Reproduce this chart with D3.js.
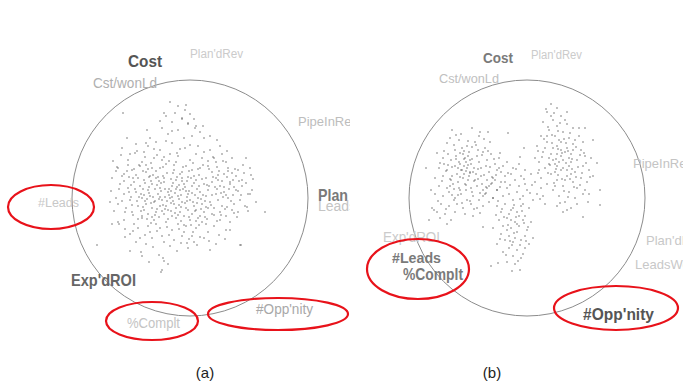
<!DOCTYPE html>
<html><head><meta charset="utf-8">
<script src="https://cdn.jsdelivr.net/npm/d3@7"></script>
<style>html,body{margin:0;padding:0;background:#fff;}svg{display:block;}</style>
</head><body>
<script>
// ---------- DATA ----------
// projected points, offsets from circle centre in data units (circle radius = 118)
const pointsA = [
[-20,-96],[-12,-92],[-5,-88],[-15,-85],[-24,-82],[-8,-80],[0,-84],[-18,-76],[-2,-74],[6,-72],[-28,-70],[-12,-68],[10,-66],[-22,-64],[2,-62],[-40,-60],[-6,-60],[14,-60],[-67,-85],[-43,-68],[-63,-60],[-2,-75],[5,-70],[13,-72],[-8,-79],
[-68,-50],[-55,-45],[-42,-52],[-30,-48],[-18,-55],[-5,-50],[8,-52],[20,-48],[32,-44],[42,-40],[-62,-38],[-48,-36],[-36,-40],[-24,-34],[-12,-42],[0,-38],[12,-40],[26,-36],[38,-30],[48,-28],[-72,-30],[-58,-28],[-44,-26],[-30,-30],[-16,-28],[-4,-32],[10,-30],[22,-26],[34,-24],[46,-22],[-66,-24],[-52,-20],[-40,-22],[-26,-20],[-10,-24],[4,-22],[16,-20],[28,-18],[40,-16],[52,-18],[-54,-54],[-20,-44],[14,-46],[-34,-56],[6,-44],[-60,-44],[30,-52],[-8,-26],[-46,-46],[18,-32],[60,-30],[-78,-20],[56,-40],[-28,-38],[-14,-36],[2,-28],[-38,-30],[24,-40],[-50,-32],[36,-36],
[-70,-14],[-62,-10],[-56,-16],[-50,-12],[-46,-18],[-42,-8],[-38,-14],[-34,-20],[-30,-10],[-26,-16],[-22,-6],[-18,-12],[-14,-18],[-10,-8],[-6,-14],[-2,-4],[2,-12],[6,-18],[10,-6],[14,-14],[18,-8],[22,-16],[26,-4],[30,-12],[34,-6],[40,-14],[46,-8],[52,-12],[58,-4],[-66,-4],[-60,2],[-54,-6],[-48,0],[-44,6],[-40,-2],[-36,4],[-32,-4],[-28,2],[-24,8],[-20,0],[-16,6],[-12,-2],[-8,4],[-4,10],[0,2],[4,8],[8,0],[12,6],[16,-2],[20,4],[24,10],[28,2],[32,8],[38,0],[44,6],[50,2],[-72,6],[-64,10],[-58,14],[-52,8],[-46,12],[-42,16],[-38,10],[-34,14],[-30,8],[-26,16],[-22,12],[-18,18],[-14,10],[-10,14],[-6,18],[-2,12],[2,16],[6,12],[10,18],[14,14],[18,10],[22,16],[30,14],[36,18],[42,12],[-57,-20],[-41,-21],[-27,-22],[-13,-21],[1,-20],[-49,-4],[-35,-9],[-21,-3],[-7,-9],[-53,3],[-39,5],[-25,-1],[-11,1],[-45,-15],[-31,-17],[-17,-15],[-3,-17],[-47,9],[-33,11],[-19,13],[-5,5],[-55,-9],[-43,1],[-29,-7],[-15,-5],[-1,-7],[-37,-1],[-23,3],[-9,-3],[-51,-1],[-61,-6],[-65,14],[-68,-22],[-41,-11],[-27,7],[-13,-11],[3,4],[9,-12],[-33,-13],[-19,-19],[-45,3],[-31,1],[-17,3],[-3,-1],[-59,-13],[-39,-17],[-25,11],[-11,7],[5,-3],[11,11],[-35,17],[-21,-9],[15,3],[19,-12],[27,-9],[33,-1],[37,9],[43,-3],[48,14],[55,8],[62,-8],[66,4],[-74,0],[-48,18],[-8,-20],[26,-20],
[-66,22],[-56,26],[-48,20],[-42,28],[-36,22],[-30,30],[-24,24],[-18,32],[-12,26],[-6,34],[0,22],[6,30],[12,24],[18,34],[24,28],[30,22],[36,32],[-60,36],[-50,40],[-40,34],[-28,38],[-16,42],[-8,38],[4,44],[14,40],[26,46],[-44,46],[-20,48],[-2,50],[20,52],[-34,26],[-14,20],[8,20],[-52,30],[-4,28],[2,38],[-26,44],[40,24],[51,47],[-71,26],[16,26],[-38,40],
[75,14],[-49,54],[-60,53],[-48,58],[-41,64],[-27,60],[-26,63],[-22,66],[-29,74],[-3,45],[10,39],[3,34],[40,32],[-65,39],[-72,24],[-78,26],[-93,47],[-28,72],[50,47],[-80,4],[60,-4],[43,-18],[37,-47],[27,-58],[20,-62]
];
const extraA = [
[-77,-37],[-71,-9],[-69,-43],[-63,-27],[-59,-1],[-57,17],[-53,-47],[-51,-33],[-49,13],[-47,-27],[-45,-41],[-43,21],[-41,-5],[-39,-35],[-37,-23],[-35,3],[-33,-43],[-31,19],[-29,-15],[-27,-31],[-25,-9],[-23,29],[-21,-37],[-19,5],[-17,-25],[-15,15],[-13,-45],[-11,-13],[-9,23],[-7,-31],[-5,-11],[-3,3],[-1,-27],[1,27],[3,-35],[5,13],[7,-9],[9,-23],[11,1],[13,-33],[15,19],[17,-13],[19,-29],[21,7],[23,-41],[25,-11],[27,23],[29,-27],[31,-5],[33,-37],[35,11],[37,-21],[39,-9],[41,3],[45,-29],[47,19],[49,-17],[53,-33],[57,9],[63,-19],
[-74,-27],[-66,-17],[-62,-33],[-58,7],[-54,-23],[-52,21],[-46,-3],[-42,-29],[-38,19],[-34,-27],[-30,-1],[-26,-41],[-22,21],[-18,-1],[-16,-33],[-12,17],[-8,-17],[-6,27],[-2,-21],[2,-5],[6,23],[8,-29],[12,-19],[16,9],[18,-37],[22,-3],[24,17],[28,-23],[32,-17],[36,-3],[42,-25],[44,15],[48,-7],[54,-25],[58,13],[-36,-49],[-24,-57],[-10,-49],[0,-53],[-44,-55],[-18,-67],[-4,-93],[-26,-85],[4,-79],[-30,-77],
[-79,-7],[-76,13],[-73,-31],[-68,3],[-61,-21],[-56,-29],[-47,-9],[-44,-33],[-39,25],[-32,-21],[-28,13],[-23,-25],[-19,-7],[-14,-9],[-9,9],[-4,-7],[-1,19],[4,-15],[7,5],[13,-3],[17,21],[23,-21],[27,-31],[31,17],[34,-11],[38,-27],[44,-11],[51,-3],[56,-15],[61,-23],
[-57,33],[-45,37],[-33,33],[-21,37],[-11,31],[-1,41],[9,27],[19,43],[29,37],[-65,31],[-37,49],[-13,53],[7,47],[35,41],[-54,44],[-31,57],[-9,45]
];
const pointsB = [
[-75,-68],[-55,-70],[-48,-62],[-80,-55],[-68,-58],[-60,-52],[-52,-56],[-42,-50],[-72,-48],[-64,-44],[-58,-46],[-50,-42],[-44,-46],[-36,-44],[-84,-40],[-76,-38],[-68,-36],[-62,-40],[-56,-34],[-48,-36],[-40,-38],[-32,-34],[-88,-30],[-80,-28],[-72,-32],[-66,-28],[-60,-30],[-54,-26],[-46,-30],[-38,-26],[-30,-28],[-24,-32],[-92,-20],[-84,-22],[-76,-18],[-70,-24],[-64,-20],[-58,-22],[-52,-18],[-46,-22],[-40,-18],[-34,-20],[-26,-16],[-88,-12],[-80,-10],[-74,-14],[-68,-10],[-62,-14],[-56,-10],[-50,-12],[-44,-8],[-38,-12],[-30,-8],[-92,-4],[-84,-2],[-78,-6],[-72,0],[-66,-4],[-60,2],[-54,-2],[-48,2],[-42,-4],[-34,0],[-86,6],[-78,8],[-70,6],[-64,10],[-56,6],[-50,10],[-44,8],[-90,14],[-82,16],[-72,14],[-62,16],[-54,18],[-95,10],[-67,-34],[-63,-24],[-69,-16],[-57,-38],[-65,-50],[-59,-18],[-71,-42],[-53,-30],[-61,-8],[-75,-22],[-49,-48],[-67,-8],[-45,-14],[-79,-44],[-55,-6],[-41,-32],[-73,2],[-61,-36],[-65,-28],[-69,-30],[-57,-26],[-63,-32],[-59,-42],[-51,-24],[-77,-12],[-83,-34],[-37,-56],[-47,-66],[-66,-64],[-28,-40],[-22,-22],[-96,-8],[-87,20],[-76,22],[-93,12],[-77,-60],[-19,-65],[-7,-41],
[-20,-36],[-8,-34],[-14,-30],[-2,-28],[-26,-26],[-16,-24],[-6,-22],[4,-24],[-32,-18],[-22,-16],[-12,-18],[-2,-14],[8,-16],[14,-10],[-40,-10],[-30,-8],[-20,-10],[-10,-6],[0,-8],[10,-4],[-44,-2],[-34,0],[-24,-2],[-14,2],[-4,-2],[6,2],[16,-2],[-28,-30],[-36,-14],[-18,-4],[-8,-12],[-4,6],[-38,4],[18,6],
[-30,8],[-22,6],[-14,10],[-6,8],[2,10],[-26,14],[-18,16],[-10,14],[-2,18],[-28,22],[-20,20],[-12,24],[-4,22],[4,24],[-24,28],[-16,30],[-8,28],[0,32],[-26,36],[-18,38],[-10,34],[-2,38],[-22,42],[-14,44],[-6,42],[2,46],[-18,50],[-10,52],[-2,50],[-24,54],[-14,58],[-6,60],[-20,64],[-12,66],[-30,46],[-4,56],[-16,22],[-8,18],[-12,40],[-20,32],[6,40],[-34,30],[-16,12],[-10,26],[-29,65],[-15,73],[-7,72],[-44,29],[-36,68],
[24,-94],[30,-90],[20,-86],[34,-82],[26,-78],[16,-76],[40,-74],[30,-72],[22,-68],[46,-70],[36,-66],[14,-62],[28,-62],[42,-60],[52,-62],[20,-56],[34,-56],[46,-54],[10,-52],[26,-50],[40,-50],[54,-48],[16,-46],[30,-44],[44,-44],[58,-42],[22,-40],[36,-38],[50,-38],[12,-36],[28,-34],[42,-32],[56,-32],[18,-30],[34,-28],[48,-26],[62,-28],[24,-24],[40,-22],[54,-20],[14,-20],[30,-18],[46,-16],[60,-16],[20,-14],[36,-12],[50,-10],[26,-8],[42,-6],[56,-4],[32,-2],[48,0],[38,4],[30,8],[44,10],[36,14],[24,-82],[38,-78],[32,-58],[24,-44],[38,-46],[32,-36],[26,-38],[44,-36],[30,-52],[36,-30],[28,-26],[42,-40],[34,-48],[20,-62],[48,-58],[8,-40],[64,-40],[66,-22],[52,-70],[40,-86],[18,-50],[44,-24],[38,-18],[28,-12],[34,-42],[30,-32],[40,-28],[46,-48],[22,-34],[56,-56],[12,-28],[58,-8],[62,-4],[50,6],
[73,-8],[73,7],[61,4],[40,12],[56,19]
];
const extraB = [
[-83,-47],[-79,-33],[-77,-19],[-73,-53],[-71,-39],[-69,-3],[-67,-21],[-63,-47],[-61,-13],[-59,-33],[-57,3],[-55,-39],[-53,-17],[-51,-53],[-49,-29],[-47,-5],[-45,-43],[-43,-23],[-41,-11],[-39,-47],[-37,-31],[-35,-15],[-33,-39],[-31,-23],[-85,-17],[-89,3],[-81,11],[-75,-3],[-65,5],[-53,11],[-47,15],[-59,-57],[-43,-59],[-71,-63],[-81,-27],[-87,-35],[-27,-45],[-63,-39],[-57,-25],[-67,-45],[-73,-9],[-49,-19],[-61,-27],[-75,-31],[-55,-51],
[-35,-21],[-27,-11],[-19,-25],[-11,-29],[-3,-19],[5,-13],[11,-25],[-41,-5],[-29,3],[-17,-13],[-7,1],[3,-5],[13,1],[-25,11],[-19,27],[-13,35],[-7,47],[-3,25],[-15,47],[-21,57],[-9,63],[-27,41],[-11,19],[1,29],[-5,13],[-23,19],[-17,43],[-1,43],[-31,17],[-13,7],
[19,-89],[27,-85],[33,-75],[21,-71],[43,-65],[17,-59],[31,-67],[39,-55],[49,-51],[25,-55],[35,-45],[45,-39],[53,-43],[15,-41],[29,-39],[39,-35],[51,-31],[59,-35],[21,-25],[31,-23],[43,-19],[55,-25],[63,-21],[27,-15],[37,-7],[47,-11],[33,5],[41,-1],[53,-13],[23,-33],[45,-29],[35,-19],[57,-45],[11,-47],[37,-59],[29,-29],[49,-21],[41,-47],[25,-63],[31,-49],
[-101,-30],[-98,22],[-80,26],[-39,-66],[-3,-50],[-90,-45],[70,-35],[66,-58],[58,-70]
];
const dimLabelsA = ["Cost","Plan'dRev","Cst/wonLd","PipeInRev","Plan","LeadsWon","#Leads","Exp'dROI","%Complt","#Opp'nity"];
const dimLabelsB = ["Cost","Plan'dRev","Cst/wonLd","PipeInRev","Exp'dROI","#Leads","%Complt","Plan'dLeads","LeadsWon","#Opp'nity"];
const captions = ["(a)","(b)"];

// ---------- LAYOUT / STYLE ----------
const W = 683, H = 383, R = 118;
const panels = [
  {cx:190, cy:198, pts:pointsA.concat(extraA), labels:dimLabelsA, caption:captions[0], capX:205, clipW:350,
   lab:[
    {x:128,y:67,s:16,w:"bold",c:"#555",tl:34},
    {x:190,y:58,s:12,w:"normal",c:"#cbcbcb",tl:53},
    {x:93,y:88,s:14,w:"normal",c:"#b0b0b0",tl:64},
    {x:298,y:126,s:13,w:"normal",c:"#bdbdbd"},
    {x:318,y:201,s:17,w:"bold",c:"#7a7a7a",tl:30},
    {x:318,y:211,s:14,w:"normal",c:"#c4c4c4"},
    {x:38,y:207,s:12,w:"normal",c:"#c8c8c8",tl:41},
    {x:71,y:286,s:17,w:"bold",c:"#666",tl:65},
    {x:127,y:328,s:14,w:"normal",c:"#c4c4c4",tl:53},
    {x:256,y:314,s:14,w:"normal",c:"#a8a8a8",tl:57}],
   ell:[{cx:51,cy:207,rx:43,ry:22},{cx:152,cy:321,rx:46,ry:19},{cx:278,cy:314,rx:70,ry:16}]},
  {cx:527, cy:198, pts:pointsB.concat(extraB), labels:dimLabelsB, caption:captions[1], capX:492, clipW:null,
   lab:[
    {x:483,y:63,s:15,w:"bold",c:"#7a7a7a",tl:30},
    {x:531,y:59,s:12,w:"normal",c:"#cbcbcb",tl:51},
    {x:439,y:83,s:13,w:"normal",c:"#c0c0c0",tl:60},
    {x:633,y:168,s:13,w:"normal",c:"#c4c4c4"},
    {x:383,y:242,s:14,w:"normal",c:"#cbcbcb",tl:57},
    {x:392,y:263,s:15,w:"bold",c:"#7a7a7a",tl:49},
    {x:403,y:280,s:16,w:"bold",c:"#7a7a7a",tl:60},
    {x:646,y:245,s:13,w:"normal",c:"#c8c8c8"},
    {x:635,y:269,s:13,w:"normal",c:"#c8c8c8"},
    {x:583,y:320,s:17,w:"bold",c:"#555",tl:71}],
   ell:[{cx:418,cy:269,rx:51,ry:30},{cx:616,cy:308,rx:62,ry:22}]}
];

const svg = d3.select("body").append("svg").attr("width",W).attr("height",H)
  .style("font-family","'Liberation Sans', Arial, sans-serif");

panels.forEach((p,i)=>{
  const x = d3.scaleLinear().domain([-R,R]).range([p.cx-R,p.cx+R]);
  const y = d3.scaleLinear().domain([-R,R]).range([p.cy-R,p.cy+R]);
  let g = svg.append("g");
  if (p.clipW){
    svg.append("clipPath").attr("id","clip"+i).append("rect").attr("x",0).attr("y",0).attr("width",p.clipW).attr("height",H);
    g.attr("clip-path","url(#clip"+i+")");
  }
  g.append("circle").attr("cx",x(0)).attr("cy",y(0)).attr("r",x(R)-x(0))
    .attr("fill","none").attr("stroke","#8c8c8c").attr("stroke-width",1);
  g.append("g").selectAll("circle").data(p.pts).join("circle")
    .attr("cx",d=>x(d[0])).attr("cy",d=>y(d[1])).attr("r",0.7).attr("fill","#555");
  g.append("g").selectAll("text").data(p.labels).join("text")
    .each(function(t,j){
      const L = p.lab[j];
      const s = d3.select(this).attr("x",L.x).attr("y",L.y).attr("font-size",L.s)
        .attr("font-weight",L.w).attr("fill",L.c).text(t);
      if (L.tl) s.attr("textLength",L.tl).attr("lengthAdjust","spacingAndGlyphs");
    });
  g.append("g").selectAll("ellipse").data(p.ell).join("ellipse")
    .attr("cx",d=>d.cx).attr("cy",d=>d.cy).attr("rx",d=>d.rx).attr("ry",d=>d.ry)
    .attr("fill","none").attr("stroke","#e8121a").attr("stroke-width",2.2);
  svg.append("text").attr("x",p.capX).attr("y",378).attr("text-anchor","middle")
    .attr("font-size",15).attr("fill","#222").text(p.caption);
});
</script>
</body></html>
